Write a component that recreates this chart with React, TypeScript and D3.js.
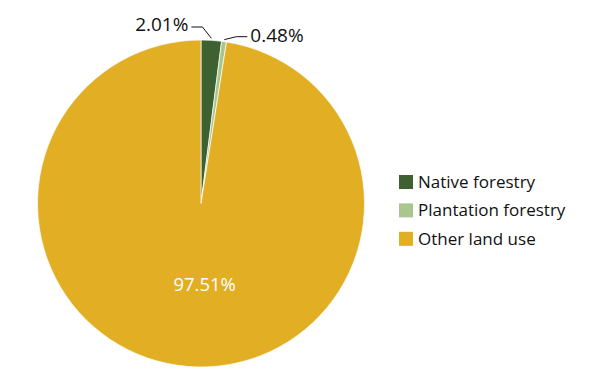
import React from "react";
import * as d3 from "d3";

const categories = ["Native forestry", "Plantation forestry", "Other land use"];
const values = [2.01, 0.48, 97.51];
const colors = ["#3d6130", "#a9c68e", "#e1ae24"];

const W = 600, H = 383;
const cx = 201, cy = 203.5, R = 163.5;

export default function App() {
  const pie = d3.pie<number>().sort(null).value((d) => d)(values);
  const arc = d3.arc<d3.PieArcDatum<number>>().innerRadius(0).outerRadius(R);
  const inner = d3.arc<d3.PieArcDatum<number>>().innerRadius(R * 0.5).outerRadius(R * 0.5);
  const fmt = (v: number) => v.toFixed(2) + "%";
  const font = "'Open Sans', sans-serif";

  const outerLabels = pie.slice(0, 2).map((p, i) => {
    const mid = (p.startAngle + p.endAngle) / 2;
    const ex = cx + (R + 2) * Math.sin(mid);
    const ey = cy - (R + 2) * Math.cos(mid);
    const dir = i === 0 ? -1 : 1;
    const ky = i === 0 ? 27 : 36.7;
    const kx = i === 0 ? ex - 9 : ex + 12;
    const tx = kx + dir * 11;
    return { ex, ey, kx, ky, tx, dir, v: p.data };
  });

  const big = pie[2];
  const [bx, by] = inner.centroid(big);

  return (
    <svg width={W} height={H} style={{ position: "absolute", left: 0, top: 0 }}>
      <rect width={W} height={H} fill="#fff" />
      <g transform={`translate(${cx},${cy})`}>
        {pie.map((p, i) => (
          <path key={i} d={arc(p) || ""} fill={colors[i]} stroke="#fff" strokeWidth={0.7} />
        ))}
        <text x={bx + 10} y={by} dy="0.35em" textAnchor="middle" fill="#fff" fontFamily={font} fontSize={18.5}>
          {fmt(big.data)}
        </text>
      </g>
      {outerLabels.map((l, i) => (
        <g key={i}>
          <polyline
            points={`${l.ex},${l.ey} ${l.kx},${l.ky} ${l.tx},${l.ky}`}
            fill="none"
            stroke="#111"
            strokeWidth={1}
          />
          <text
            x={l.tx + l.dir * 3}
            y={l.ky - (i === 0 ? 3 : 1)}
            dy="0.35em"
            textAnchor={l.dir < 0 ? "end" : "start"}
            fill="#111"
            fontFamily={font}
            fontSize={19}
          >
            {fmt(l.v)}
          </text>
        </g>
      ))}
      <g transform="translate(399,175)">
        {categories.map((c, i) => (
          <g key={c} transform={`translate(0,${i * 28.4})`}>
            <rect width={14} height={14} fill={colors[i]} />
            <text x={19} y={7} dy="0.35em" fill="#111" fontFamily={font} fontSize={17}>
              {c}
            </text>
          </g>
        ))}
      </g>
    </svg>
  );
}
